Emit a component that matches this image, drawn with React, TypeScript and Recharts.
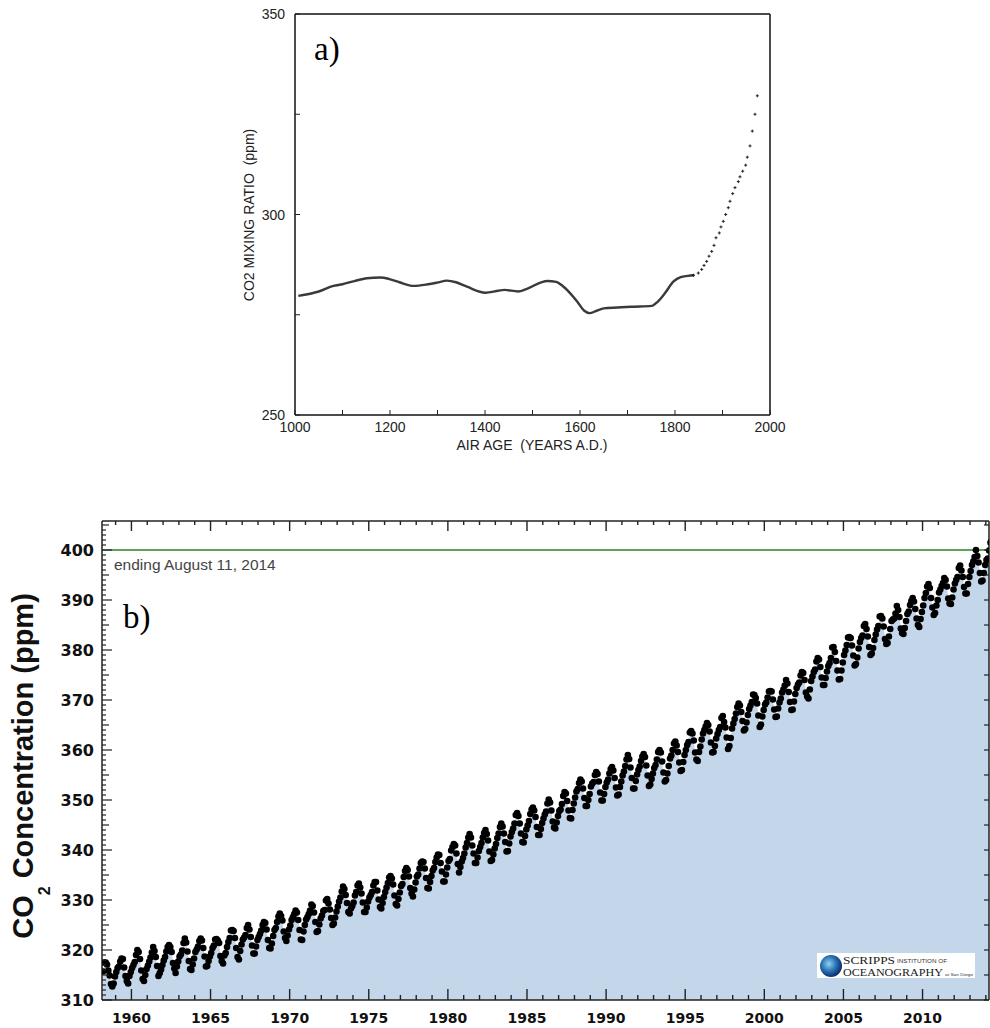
import React from "react";
import { ComposedChart, Line, Scatter, Area, XAxis, YAxis, ReferenceLine } from "recharts";

// a) ice-core record, smooth part (years A.D., ppm)
const iceYears = [1007, 1050, 1081, 1100, 1125, 1151, 1180, 1199, 1220, 1250, 1280, 1299, 1320, 1339, 1362, 1401, 1428, 1441, 1470, 1487, 1517, 1531, 1550, 1561, 1579, 1594, 1609, 1620, 1635, 1650, 1679, 1708, 1751, 1764, 1779, 1797, 1812, 1827, 1841];
const iceCo2 = [279.7, 280.8, 282.2, 282.6, 283.4, 284.1, 284.3, 283.9, 283.1, 282.2, 282.6, 283.0, 283.5, 283.1, 282.0, 280.5, 281.0, 281.2, 280.8, 281.4, 283.0, 283.4, 283.2, 282.4, 280.4, 278.3, 276.0, 275.4, 276.0, 276.6, 276.8, 277.0, 277.2, 278.3, 280.4, 283.3, 284.4, 284.7, 284.9];

// a) sparse samples after 1840
const tailYears = [1838.5, 1849.1, 1856.2, 1861.1, 1866.7, 1871.6, 1877.3, 1882.1, 1886.3, 1893.3, 1896.8, 1901.7, 1906.7, 1912.2, 1915.8, 1921.5, 1926.3, 1933.3, 1936.8, 1942.5, 1948.8, 1952.2, 1957.9, 1962.7, 1968.4, 1973.3];
const tailCo2 = [284.8, 285.4, 286.3, 287.3, 288.3, 289.6, 290.8, 292.3, 294.2, 295.4, 296.9, 298.3, 300.0, 301.7, 303.3, 305.2, 306.7, 308.2, 309.4, 310.8, 312.3, 314.3, 317.1, 320.8, 325.0, 329.6];

const iceYTicks = [250, 275, 300, 325, 350];
const iceXTicks = [1000, 1100, 1200, 1300, 1400, 1500, 1600, 1700, 1800, 1900, 2000];

// b) Mauna Loa monthly means
const mlo1958 = [315.7, 317.5, 317.5, 317.1, 315.9, 314.9, 313.2, 312.7, 313.3, 314.7]; // Mar-Dec
const mlo1959to1969 = [
  315.6, 316.4, 316.7, 317.7, 318.3, 318.2, 316.5, 314.8, 313.8, 313.3, 314.8, 315.6,
  316.4, 317.0, 317.6, 319.0, 320.0, 319.6, 318.2, 315.9, 314.2, 313.8, 315.0, 316.2,
  316.9, 317.7, 318.5, 319.5, 320.6, 319.8, 318.6, 316.8, 314.8, 315.4, 316.1, 317.0,
  317.9, 318.6, 319.7, 320.6, 321.0, 320.6, 319.6, 317.4, 316.3, 315.4, 316.7, 317.7,
  318.7, 319.1, 319.9, 321.4, 322.3, 321.5, 319.7, 317.8, 316.2, 316.0, 317.1, 318.3,
  319.6, 320.1, 320.7, 321.8, 322.3, 321.9, 320.4, 318.7, 316.7, 316.8, 317.8, 318.7,
  319.4, 320.4, 320.9, 322.1, 322.2, 321.9, 321.4, 318.8, 317.8, 317.3, 318.9, 319.4,
  320.6, 321.6, 322.4, 323.9, 324.0, 323.8, 322.4, 320.4, 318.6, 318.1, 319.8, 321.1,
  322.1, 322.5, 323.0, 324.4, 325.0, 324.1, 322.6, 320.9, 319.3, 319.3, 320.7, 322.0,
  322.6, 323.2, 323.9, 325.0, 325.6, 325.4, 324.1, 322.0, 320.4, 320.3, 321.3, 322.8,
  324.0, 324.4, 325.6, 326.7, 327.3, 326.8, 325.9, 323.7, 322.4, 321.8, 322.9, 324.1,
];
const mlo1970s = [
  324.9, 326.0, 326.6, 327.2, 327.9, 327.5, 326.0, 324.0, 322.1, 322.0, 323.7, 325.0,
  326.1, 326.6, 327.2, 327.9, 329.1, 328.8, 327.5, 325.6, 323.6, 323.8, 325.1, 326.3,
  326.9, 327.8, 328.0, 329.9, 330.2, 329.3, 328.1, 326.4, 325.0, 325.3, 326.5, 327.7,
  328.7, 329.7, 330.5, 331.7, 332.7, 332.2, 331.0, 329.4, 327.6, 327.3, 328.3, 328.8,
  329.5, 330.9, 331.6, 332.9, 333.3, 332.5, 331.3, 329.5, 327.6, 327.6, 328.5, 329.7,
  330.5, 331.0, 331.6, 332.9, 333.6, 333.6, 331.9, 330.1, 328.6, 328.3, 329.4, 330.6,
  331.6, 332.5, 333.4, 334.5, 334.8, 334.3, 333.1, 330.9, 329.2, 328.9, 330.2, 331.5,
  332.8, 333.2, 334.6, 335.8, 336.4, 336.0, 334.7, 332.4, 331.3, 330.7, 332.1, 333.5,
  334.7, 335.1, 336.3, 337.4, 337.7, 337.6, 336.3, 334.4, 332.4, 332.3, 333.6, 334.8,
  335.9, 336.4, 337.6, 338.5, 339.1, 339.0, 337.4, 335.7, 333.7, 333.7, 335.1, 336.5,
];
const mlo1980s = [
  337.8, 338.2, 339.9, 340.6, 341.2, 340.9, 339.3, 337.2, 335.5, 336.6, 337.7, 338.4,
  339.3, 340.5, 341.4, 342.5, 343.2, 342.5, 340.9, 339.3, 337.4, 337.4, 338.5, 339.8,
  340.6, 341.4, 342.5, 343.4, 344.0, 343.2, 341.9, 339.7, 337.8, 338.0, 339.1, 340.3,
  341.2, 342.4, 343.3, 344.6, 345.3, 344.7, 343.3, 341.6, 339.7, 339.8, 341.3, 342.7,
  343.6, 344.3, 345.3, 347.0, 347.4, 346.8, 345.3, 343.3, 341.6, 341.5, 342.8, 344.1,
  344.9, 345.8, 347.2, 348.1, 348.5, 347.9, 346.6, 344.6, 343.0, 343.0, 344.2, 345.4,
  346.3, 347.1, 347.7, 349.3, 350.1, 349.5, 347.9, 345.7, 344.5, 344.3, 345.5, 346.8,
  347.8, 348.1, 349.2, 350.8, 351.6, 351.3, 349.8, 347.9, 346.4, 346.3, 348.0, 349.3,
  350.5, 351.7, 352.2, 353.4, 354.1, 353.7, 352.3, 350.4, 348.8, 348.8, 350.0, 351.2,
  352.7, 353.3, 353.6, 355.0, 355.6, 355.2, 353.7, 351.5, 349.9, 349.9, 351.2, 352.6,
];
const mlo1990s = [
  353.5, 354.1, 355.3, 356.2, 356.6, 355.9, 354.4, 352.5, 350.9, 351.1, 352.6, 353.7,
  354.9, 355.7, 356.8, 358.1, 359.0, 358.2, 356.5, 354.4, 352.3, 352.3, 353.8, 355.1,
  356.0, 356.7, 357.8, 358.7, 359.2, 358.6, 356.9, 354.9, 352.8, 353.1, 354.2, 355.3,
  356.4, 357.0, 358.1, 359.6, 360.0, 359.5, 357.7, 355.5, 353.7, 354.0, 355.3, 356.8,
  358.3, 358.9, 360.0, 361.3, 361.7, 360.9, 359.6, 357.5, 355.8, 356.0, 357.6, 359.0,
  360.0, 361.0, 361.6, 363.5, 363.8, 363.3, 361.9, 359.5, 358.1, 357.8, 359.6, 360.7,
  362.1, 363.3, 364.0, 364.7, 365.4, 365.0, 363.7, 361.5, 359.5, 359.6, 360.8, 362.3,
  363.2, 364.0, 364.6, 366.4, 366.8, 365.6, 364.5, 362.5, 360.2, 360.8, 362.4, 364.3,
  365.3, 366.2, 367.3, 368.6, 369.3, 368.9, 367.6, 365.8, 363.9, 364.2, 365.5, 367.0,
  368.2, 368.9, 369.6, 371.1, 371.0, 370.4, 369.3, 366.9, 364.6, 365.1, 366.7, 368.0,
];
const mlo2000s = [
  369.1, 369.5, 370.5, 371.7, 371.8, 371.7, 370.1, 368.1, 366.6, 366.7, 368.3, 369.5,
  370.3, 371.5, 372.1, 372.9, 374.0, 373.3, 371.6, 369.6, 368.0, 368.1, 369.7, 371.2,
  372.4, 373.1, 373.5, 374.9, 375.6, 375.4, 374.0, 371.5, 370.7, 370.3, 372.1, 373.8,
  374.7, 375.6, 376.1, 377.7, 378.4, 378.1, 376.6, 374.5, 373.0, 373.0, 374.4, 375.7,
  376.8, 377.4, 378.4, 380.5, 380.6, 379.6, 377.8, 375.9, 374.1, 374.2, 375.9, 377.5,
  379.0, 379.9, 381.0, 382.5, 382.6, 382.4, 380.9, 378.9, 376.9, 377.2, 378.5, 380.3,
  381.6, 382.4, 382.9, 384.8, 385.2, 384.2, 382.7, 380.6, 379.0, 379.3, 380.4, 382.0,
  383.1, 384.1, 384.8, 386.7, 386.8, 386.3, 384.7, 382.2, 381.2, 381.4, 382.7, 384.2,
  385.8, 386.1, 386.3, 387.3, 388.8, 388.0, 386.6, 384.3, 383.4, 383.2, 384.4, 385.8,
  387.2, 387.7, 389.0, 389.8, 390.4, 389.7, 388.2, 386.3, 385.0, 384.6, 386.2, 387.6,
];
const mlo2010s = [
  388.9, 390.4, 391.4, 392.7, 393.2, 392.4, 390.4, 388.5, 387.0, 387.4, 388.9, 390.0,
  391.5, 392.1, 392.8, 393.4, 394.4, 394.0, 392.7, 390.3, 389.3, 389.2, 390.5, 392.1,
  393.3, 394.0, 394.6, 396.4, 396.9, 395.9, 394.6, 392.6, 391.3, 391.3, 393.2, 394.6,
  395.8, 397.0, 397.7, 398.6, 400.0, 398.8, 397.5, 395.4, 393.7, 393.9, 395.4, 397.0,
  398.0, 398.3, 399.9, 401.5, 402.0, 401.4, 399.1, 397.0, // to Aug 2014
];

const mloYTicks = Array.from({ length: 96 }, (_, i) => 310 + i);
const mloXTicks = Array.from({ length: 56 }, (_, i) => 1959 + i);

function monthly(startYear: number, startMonth: number, values: number[]) {
  return values.map((co2, i) => {
    const m = startMonth + i;
    return { t: startYear + Math.floor(m / 12) + ((m % 12) + 0.5) / 12, co2 };
  });
}

const iceData = iceYears.map((year, i) => ({ year, co2: iceCo2[i] }));
const tailData = tailYears.map((year, i) => ({ year, co2: tailCo2[i] }));
const mloData = [
  ...monthly(1958, 2, mlo1958),
  ...monthly(1959, 0, mlo1959to1969),
  ...monthly(1970, 0, mlo1970s),
  ...monthly(1980, 0, mlo1980s),
  ...monthly(1990, 0, mlo1990s),
  ...monthly(2000, 0, mlo2000s),
  ...monthly(2010, 0, mlo2010s),
];

const SANS = "'Liberation Sans', Arial, sans-serif";
const SERIF = "'Liberation Serif', 'Times New Roman', serif";
const BOLD_NUM = "'DejaVu Sans', sans-serif";

// ---------- a) ticks ----------
const ICE_YM = 10;
const IceYTick = ({ x, y, payload }: any) => {
  const ax = x + ICE_YM;
  return (
    <g>
      <line x1={ax} x2={ax + 5} y1={y} y2={y} stroke="#222" strokeWidth={1} />
      {payload.value % 50 === 0 && (
        <text x={x} y={y + 5} textAnchor="end" fontFamily={SANS} fontSize={14} fill="#222">
          {payload.value}
        </text>
      )}
    </g>
  );
};

const ICE_XM = 6;
const IceXTick = ({ x, y, payload }: any) => {
  const ay = y - ICE_XM;
  return (
    <g>
      <line x1={x} x2={x} y1={ay} y2={ay - 5} stroke="#222" strokeWidth={1} />
      {payload.value % 200 === 0 && (
        <text x={x} y={ay + 17} textAnchor="middle" fontFamily={SANS} fontSize={14} fill="#222">
          {payload.value}
        </text>
      )}
    </g>
  );
};

const Cross = ({ cx, cy }: any) => (
  <path d={`M${cx - 1.5},${cy}h3M${cx},${cy - 1.5}v3`} stroke="#222" strokeWidth={1} />
);

// ---------- b) ticks ----------
// plot box of chart b in its own svg coordinates (from the margins below)
const MLO_TOP = 21;
const MLO_RIGHT = 989;

const MLO_YM = 8;
const MloYTick = ({ x, y, payload }: any) => {
  const v = payload.value;
  const ax = x + MLO_YM;
  const len = v % 10 === 0 ? 10 : v % 5 === 0 ? 7 : 4;
  return (
    <g>
      <line x1={ax} x2={ax + len} y1={y} y2={y} stroke="#222" strokeWidth={1.2} />
      {v % 5 === 0 && (
        <line x1={MLO_RIGHT} x2={MLO_RIGHT - 5} y1={y} y2={y} stroke="#222" strokeWidth={1.2} />
      )}
      {v % 10 === 0 && (
        <text x={x} y={y + 6} textAnchor="end" fontFamily={BOLD_NUM} fontWeight="bold" fontSize={16} fill="#111">
          {v}
        </text>
      )}
    </g>
  );
};

const MLO_XM = 6;
const MloXTick = ({ x, y, payload }: any) => {
  const v = payload.value;
  const ay = y - MLO_XM;
  const major = v % 5 === 0;
  return (
    <g>
      <line x1={x} x2={x} y1={ay} y2={ay - (major ? 11 : 5)} stroke="#222" strokeWidth={1.4} />
      <line x1={x} x2={x} y1={MLO_TOP} y2={MLO_TOP + (major ? 10 : 4)} stroke="#222" strokeWidth={1.4} />
      {major && (
        <text x={x} y={ay + 23} textAnchor="middle" fontFamily={BOLD_NUM} fontWeight="bold" fontSize={14} fill="#111">
          {v}
        </text>
      )}
    </g>
  );
};

const Dot = ({ cx, cy }: any) => <circle cx={cx} cy={cy} r={3.3} fill="#000" />;

function IceCoreChart() {
  return (
    <ComposedChart width={990} height={470} margin={{ top: 13, right: 219, bottom: 15, left: 235 }}>
      <Line
        data={iceData}
        dataKey="co2"
        type="monotone"
        stroke="#3a3a3a"
        strokeWidth={2.4}
        dot={false}
        isAnimationActive={false}
      />
      <Scatter data={tailData} dataKey="co2" shape={<Cross />} isAnimationActive={false} />
      <XAxis
        dataKey="year"
        type="number"
        domain={[1000, 2000]}
        ticks={iceXTicks}
        interval={0}
        height={40}
        tickSize={0}
        tickMargin={ICE_XM}
        tick={<IceXTick />}
        tickLine={false}
        axisLine={{ stroke: "#111", strokeWidth: 1.5 }}
      />
      <XAxis xAxisId="top" orientation="top" type="number" domain={[1000, 2000]} height={1} tick={false} tickLine={false} axisLine={{ stroke: "#111", strokeWidth: 1.5 }} />
      <YAxis
        dataKey="co2"
        type="number"
        domain={[250, 350]}
        ticks={iceYTicks}
        interval={0}
        width={60}
        tickSize={0}
        tickMargin={ICE_YM}
        tick={<IceYTick />}
        tickLine={false}
        axisLine={{ stroke: "#111", strokeWidth: 1.5 }}
      />
      <YAxis yAxisId="right" orientation="right" type="number" domain={[250, 350]} width={1} tick={false} tickLine={false} axisLine={{ stroke: "#111", strokeWidth: 1.5 }} />
    </ComposedChart>
  );
}

function MaunaLoaChart() {
  return (
    <ComposedChart width={990} height={528} data={mloData} margin={{ top: 20, right: 0, bottom: 0, left: 0 }}>
      <Area dataKey="co2" type="linear" stroke="none" fill="#c4d6ea" fillOpacity={1} isAnimationActive={false} />
      <ReferenceLine y={400} stroke="#5aa55a" strokeWidth={2} />
      <Scatter data={mloData} dataKey="co2" shape={<Dot />} isAnimationActive={false} />
      <XAxis
        dataKey="t"
        type="number"
        domain={[1958.14, 2014.2]}
        allowDataOverflow
        ticks={mloXTicks}
        interval={0}
        height={28}
        tickSize={0}
        tickMargin={MLO_XM}
        tick={<MloXTick />}
        tickLine={false}
        axisLine={{ stroke: "#222", strokeWidth: 1.5 }}
      />
      <XAxis
        xAxisId="top"
        orientation="top"
        type="number"
        domain={[1958.14, 2014.2]}
        allowDataOverflow
        height={1}
        tick={false}
        tickLine={false}
        axisLine={{ stroke: "#222", strokeWidth: 1.5 }}
      />
      <YAxis
        dataKey="co2"
        type="number"
        domain={[310, 405.8]}
        allowDataOverflow
        ticks={mloYTicks}
        interval={0}
        width={102}
        tickSize={0}
        tickMargin={MLO_YM}
        tick={<MloYTick />}
        tickLine={false}
        axisLine={{ stroke: "#222", strokeWidth: 1.5 }}
      />
      <YAxis
        yAxisId="right"
        orientation="right"
        type="number"
        domain={[310, 405.8]}
        allowDataOverflow
        width={1}
        tick={false}
        tickLine={false}
        axisLine={{ stroke: "#222", strokeWidth: 1.5 }}
      />
    </ComposedChart>
  );
}

function Annotations() {
  return (
    <svg width={990} height={1028} style={{ position: "absolute", left: 0, top: 0, pointerEvents: "none" }}>
      {/* a) */}
      <text x={314} y={60} fontFamily={SERIF} fontSize={33} fill="#000">a)</text>
      <text transform="translate(254,215) rotate(-90)" textAnchor="middle" fontFamily={SANS} fontSize={14} fill="#222" style={{ whiteSpace: "pre" }}>
        CO2 MIXING RATIO  (ppm)
      </text>
      <text x={532} y={450} textAnchor="middle" fontFamily={SANS} fontSize={14} fill="#222" style={{ whiteSpace: "pre" }}>
        AIR AGE  (YEARS A.D.)
      </text>

      {/* b) */}
      <text x={114} y={570} fontFamily={SANS} fontSize={15.5} fill="#444">ending August 11, 2014</text>
      <text x={123} y={628} fontFamily={SERIF} fontSize={33} fill="#000">b)</text>
      <text transform="translate(33,766) rotate(-90)" textAnchor="middle" fontFamily={SANS} fontWeight="bold" fontSize={29} fill="#111">
        CO<tspan fontSize={16} dy={17}>2</tspan>
        <tspan dy={-17}> Concentration (ppm)</tspan>
      </text>

      {/* Scripps logo */}
      <defs>
        <radialGradient id="globe" cx="40%" cy="40%" r="60%">
          <stop offset="0%" stopColor="#8fd3f0" />
          <stop offset="55%" stopColor="#2a74b8" />
          <stop offset="100%" stopColor="#0c2f6a" />
        </radialGradient>
      </defs>
      <rect x={817} y={953} width={158} height={25} fill="#fff" />
      <circle cx={831} cy={966} r={11} fill="url(#globe)" />
      <text x={843} y={963.5} fontFamily={SERIF} fontSize={10.5} fill="#1a1a1a" textLength={52} lengthAdjust="spacingAndGlyphs">SCRIPPS</text>
      <text x={897} y={963} fontFamily={SANS} fontSize={4.5} fill="#333" textLength={50} lengthAdjust="spacingAndGlyphs">INSTITUTION OF</text>
      <text x={843} y={976.3} fontFamily={SERIF} fontSize={10.5} fill="#1a1a1a" textLength={100} lengthAdjust="spacingAndGlyphs">OCEANOGRAPHY</text>
      <text x={945} y={976} fontFamily={SANS} fontSize={4} fill="#333" textLength={28} lengthAdjust="spacingAndGlyphs">at San Diego</text>
    </svg>
  );
}

export default function App() {
  return (
    <div style={{ position: "absolute", left: 0, top: 0, width: 990, height: 1028, background: "#fff", overflow: "hidden" }}>
      <div style={{ position: "absolute", left: 0, top: 0 }}>
        <IceCoreChart />
      </div>
      <div style={{ position: "absolute", left: 0, top: 500 }}>
        <MaunaLoaChart />
      </div>
      <Annotations />
    </div>
  );
}
